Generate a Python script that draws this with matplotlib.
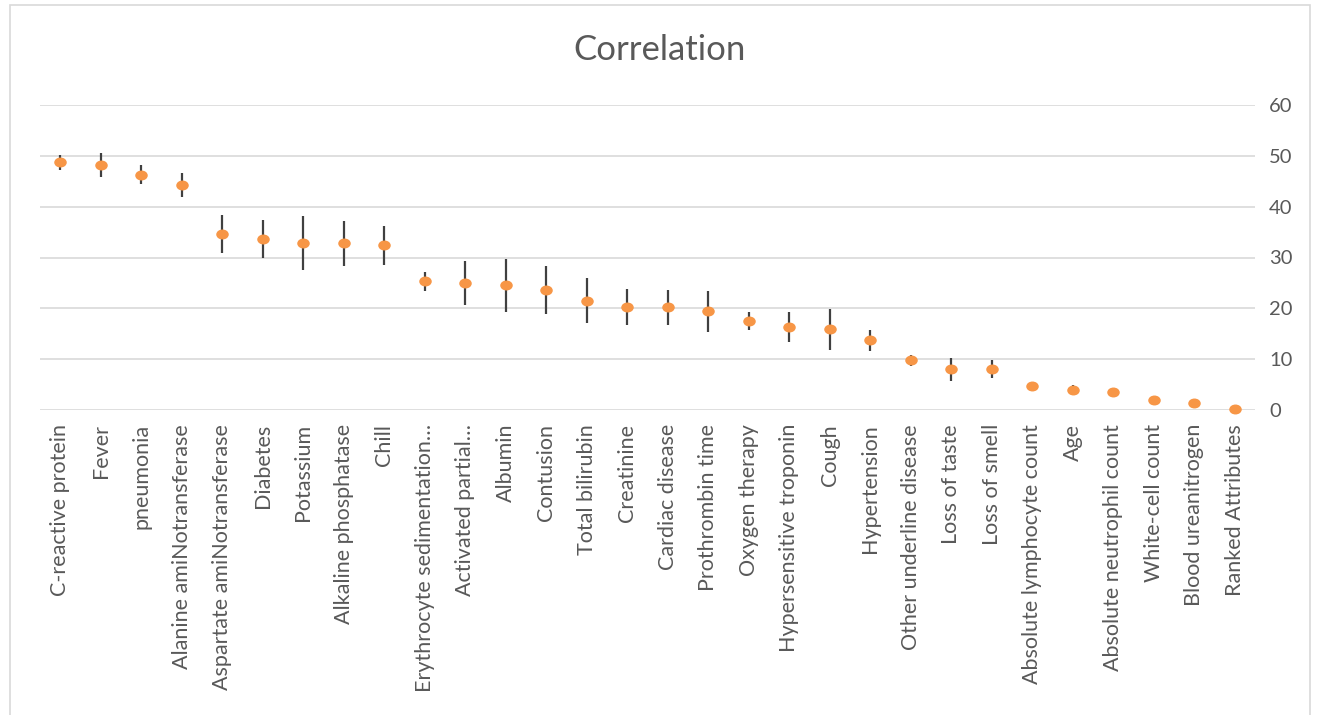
import matplotlib.pyplot as plt
import matplotlib.patches as mpatches
from matplotlib.path import Path
from matplotlib.transforms import Affine2D

# --- data ---
attributes = [
    "C-reactive protein", "Fever", "pneumonia", "Alanine amiNotransferase",
    "Aspartate amiNotransferase", "Diabetes", "Potassium", "Alkaline phosphatase",
    "Chill", "Erythrocyte sedimentation…", "Activated partial…", "Albumin",
    "Contusion", "Total bilirubin", "Creatinine", "Cardiac disease",
    "Prothrombin time", "Oxygen therapy", "Hypersensitive troponin", "Cough",
    "Hypertension", "Other underline disease", "Loss of taste", "Loss of smell",
    "Absolute lymphocyte count", "Age", "Absolute neutrophil count",
    "White-cell count", "Blood ureanitrogen", "Ranked Attributes",
]
correlation = [48.7, 48.2, 46.3, 44.3, 34.6, 33.7, 32.8, 32.8, 32.4, 25.3,
               25.0, 24.5, 23.6, 21.5, 20.3, 20.2, 19.4, 17.5, 16.3, 15.9,
               13.7, 9.8, 8.0, 8.0, 4.7, 4.0, 3.5, 1.9, 1.3, 0.1]
error = [1.5, 2.3, 1.8, 2.4, 3.8, 3.7, 5.3, 4.4, 3.8, 1.9,
         4.3, 5.2, 4.8, 4.4, 3.5, 3.5, 4.0, 1.8, 2.9, 4.0,
         2.0, 1.1, 2.2, 1.8, 0.5, 0.9, 0.4, 0.3, 0.3, 0.0]

plt.rcParams['font.family'] = ['Lato', 'DejaVu Sans']
text_color = "#595959"

fig = plt.figure(figsize=(13.19, 7.15), dpi=100)
ax = fig.add_axes([40 / 1319, 305 / 715, 1215 / 1319, 305 / 715])

# slightly flattened round marker, like the Excel dots
dot = Path.unit_circle().transformed(Affine2D().scale(1.3, 1.0))

x = list(range(len(attributes)))
ax.errorbar(x, correlation, yerr=error, fmt='none', ecolor="#404040",
            elinewidth=1.6, capsize=0, zorder=3, clip_on=False)
ax.plot(x, correlation, linestyle='none', marker=dot, markersize=8,
        color="#F79646", markeredgecolor="#F79646", zorder=4, clip_on=False)

ax.set_xlim(-0.5, len(attributes) - 0.5)
ax.set_ylim(0, 60)
ax.set_yticks(range(0, 61, 10))
ax.yaxis.tick_right()
ax.tick_params(axis='y', length=0, labelsize=14.5, labelcolor=text_color, pad=10)
ax.set_xticks(x)
ax.set_xticklabels(attributes, rotation=90, fontsize=15.5, color=text_color)
ax.tick_params(axis='x', length=0, pad=10)
ax.grid(True, axis='y', color="#D9D9D9", linewidth=1.2)
ax.set_axisbelow(True)
for side in ax.spines.values():
    side.set_visible(False)

fig.text(0.5, 1 - 50 / 715, "Correlation", ha='center', va='center',
         fontsize=25, color=text_color)

# chart border
fig.patches.append(mpatches.Rectangle((10 / 1319, -0.01), 1300 / 1319, 1 - 5 / 715 + 0.01,
                                      transform=fig.transFigure, fill=False,
                                      edgecolor="#D9D9D9", linewidth=1.2))

plt.savefig("out.png", dpi=100)
